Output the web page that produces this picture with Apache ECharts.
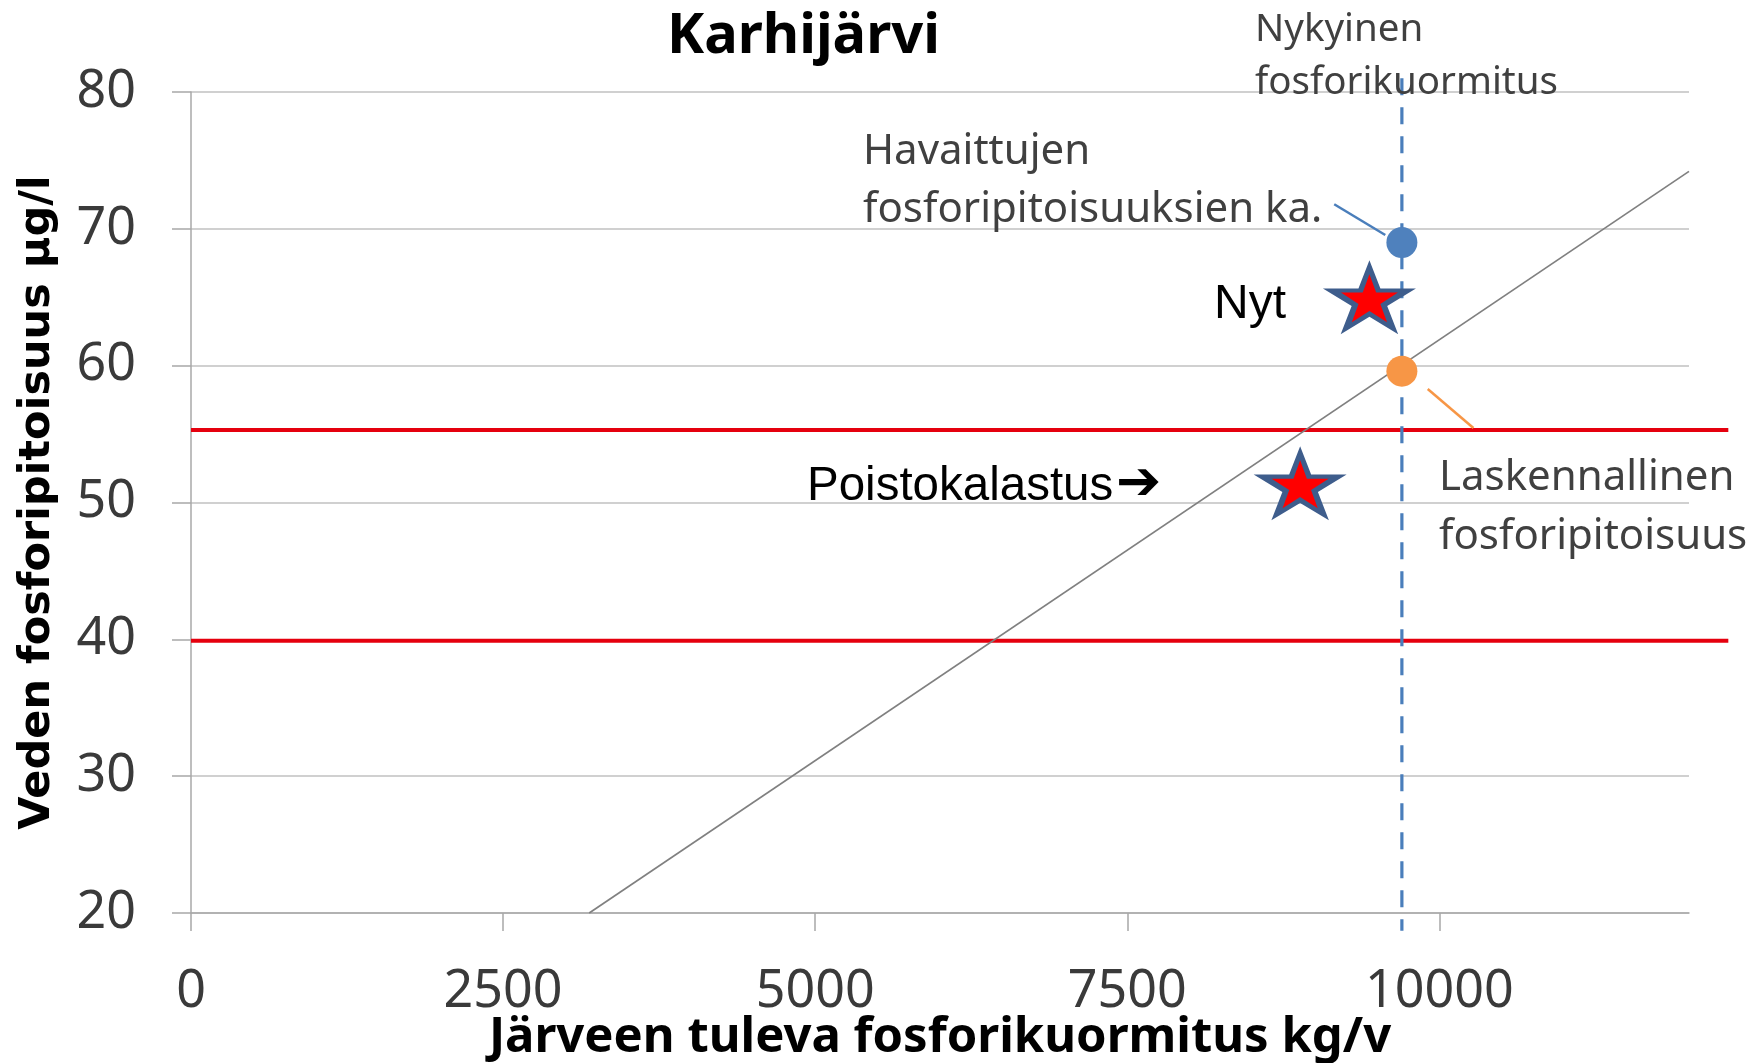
<!DOCTYPE html>
<html>
<head>
<meta charset="utf-8">
<script src="https://cdn.jsdelivr.net/npm/echarts@6/dist/echarts.min.js"></script>
<style>
html,body{margin:0;padding:0;background:#fff;}
#chart{width:1746px;height:1063px;}
</style>
</head>
<body>
<div id="chart"></div>
<script>
// ---- data ----
const titleText = 'Karhijärvi';
const xAxisTitle = 'Järveen tuleva fosforikuormitus kg/v';
const yAxisTitle = 'Veden fosforipitoisuus µg/l';
const xTickValues = [0, 2500, 5000, 7500, 10000];
const yTickValues = [20, 30, 40, 50, 60, 70, 80];
const xRange = [0, 12000];
const yRange = [20, 80];

// model line (load -> concentration)
const modelLine = [[3190, 20], [12000, 74.2]];
// target limits (red), drawn a bit past the plot's right edge
const limitUpper = [[0, 55.3], [12315, 55.3]];
const limitLower = [[0, 39.9], [12315, 39.9]];
// current load (dashed vertical)
const currentLoad = [[9700, 81], [9700, 18.7]];
// observed mean and computed concentration
const observedMean = [[9700, 69.0]];
const computedConc = [[9700, 59.6]];
// leader lines of the labels
const observedLeader = [[9158, 71.8], [9567, 69.55]];
const computedLeader = [[9907, 58.3], [10273, 55.45]];
// stars
const starNow = [[9440, 65.0]];
const starFishing = [[8885, 51.4]];

// annotation texts
const noteLoad = 'Nykyinen\nfosforikuormitus';
const noteObserved = 'Havaittujen\nfosforipitoisuuksien ka.';
const noteComputed = 'Laskennallinen\nfosforipitoisuus';
const noteNow = 'Nyt';
const noteFishing = 'Poistokalastus';
const noteArrow = '➔';

// ---- chart ----
const calib = '"Noto Sans", "Open Sans", sans-serif';
const arial = '"Liberation Sans", Arial, "DejaVu Sans", sans-serif';
const starPath = 'path://M50 0 L61.23 34.55 L97.55 34.55 L68.17 55.9 L79.39 90.45 L50 69.1 L20.61 90.45 L31.83 55.9 L2.45 34.55 L38.77 34.55 Z';
const gridGray = '#c0c0c0';
const axisGray = '#a8a8a8';

const chart = echarts.init(document.getElementById('chart'), null, {renderer: 'canvas'});

function lineSeries(name, data, color, width, type, z, gridIdx) {
  return {
    name: name, type: 'line', data: data, showSymbol: false, symbol: 'none',
    xAxisIndex: gridIdx || 0, yAxisIndex: gridIdx || 0,
    clip: false, silent: true, z: z,
    lineStyle: {color: color, width: width, type: type || 'solid'}
  };
}
function starSeries(name, data, color, size, z, offset) {
  return {
    name: name, type: 'scatter', data: data, symbol: starPath, symbolSize: size,
    symbolOffset: offset || [0, 0],
    itemStyle: {color: color, opacity: 1}, z: z, silent: true
  };
}

const plotLeft = 191, plotTop = 92, plotBottom = 150, plotRight = 57;
// the wide grid shares pixel scale with the main one, reaching the red lines' end
const wideRight = 1746 - (plotLeft + (1746 - plotLeft - plotRight) * limitUpper[1][0] / xRange[1]);

const option = {
  animation: false,
  backgroundColor: '#ffffff',
  title: {
    text: titleText,
    left: 662, top: 4,
    textStyle: {fontFamily: calib, fontWeight: 'bold', fontSize: 56, color: '#000'}
  },
  grid: [
    {left: plotLeft, right: plotRight, top: plotTop, bottom: plotBottom, containLabel: false, outerBoundsMode: 'none'},
    {left: plotLeft, right: wideRight, top: plotTop, bottom: plotBottom, containLabel: false, outerBoundsMode: 'none'}
  ],
  xAxis: [{
    type: 'value', min: xRange[0], max: xRange[1], gridIndex: 0,
    name: xAxisTitle, nameLocation: 'middle', nameGap: 101, nameMoveOverlap: false,
    nameTextStyle: {fontFamily: calib, fontWeight: 'bold', fontSize: 49, color: '#000'},
    axisLine: {show: true, lineStyle: {color: axisGray, width: 1.5}},
    axisTick: {show: true, length: 18, customValues: xTickValues, lineStyle: {color: axisGray, width: 1.5}},
    axisLabel: {customValues: xTickValues, margin: 53, fontFamily: calib, fontSize: 52, color: '#3a3a3a',
                formatter: function (v) { return String(v); }},
    splitLine: {show: false}
  }, {
    type: 'value', min: xRange[0], max: limitUpper[1][0], gridIndex: 1, show: false,
    axisLine: {show: false}, axisTick: {show: false}, axisLabel: {show: false}, splitLine: {show: false}
  }],
  yAxis: [{
    type: 'value', min: yRange[0], max: yRange[1], interval: 10, gridIndex: 0,
    name: yAxisTitle, nameLocation: 'middle', nameRotate: 90, nameGap: 132, nameMoveOverlap: false,
    nameTextStyle: {fontFamily: '"DejaVu Sans", Verdana, sans-serif', fontWeight: 'bold', fontSize: 43, color: '#000'},
    axisLine: {show: true, lineStyle: {color: axisGray, width: 1.5}},
    axisTick: {show: true, length: 19, customValues: yTickValues, lineStyle: {color: axisGray, width: 1.5}},
    axisLabel: {customValues: yTickValues, margin: 55, fontFamily: calib, fontSize: 52, color: '#3a3a3a'},
    splitLine: {show: true, lineStyle: {color: gridGray, width: 1.5}}
  }, {
    type: 'value', min: yRange[0], max: yRange[1], gridIndex: 1, show: false,
    axisLine: {show: false}, axisTick: {show: false}, axisLabel: {show: false}, splitLine: {show: false}
  }],
  series: [
    lineSeries('Raja 55', limitUpper, '#e5000e', 4, 'solid', 3, 1),
    lineSeries('Raja 40', limitLower, '#e5000e', 4, 'solid', 3, 1),
    lineSeries('Malli', modelLine, '#808080', 1.7, 'solid', 4),
    lineSeries('Nykyinen kuormitus', currentLoad, '#4a7ebb', 3.2, [17, 12], 5),
    lineSeries('Havaittu viiva', observedLeader, '#4a7ebb', 2.5, 'solid', 5),
    lineSeries('Laskettu viiva', computedLeader, '#f79646', 2.5, 'solid', 5),
    {
      name: 'Havaittu', type: 'scatter', data: observedMean, symbol: 'circle', symbolSize: 31,
      itemStyle: {color: '#4f81bd', opacity: 1}, z: 6, silent: true
    },
    {
      name: 'Laskennallinen', type: 'scatter', data: computedConc, symbol: 'circle', symbolSize: 31,
      itemStyle: {color: '#f79646', opacity: 1}, z: 6, silent: true
    },
    starSeries('Nyt (reuna)', starNow, '#3e5d8c', [93, 74], 7),
    starSeries('Nyt', starNow, '#ff0000', [57, 48], 8, [0, 1]),
    starSeries('Poistokalastus (reuna)', starFishing, '#3e5d8c', [93, 74], 7),
    starSeries('Poistokalastus', starFishing, '#ff0000', [57, 48], 8, [0, 1])
  ],
  graphic: [
    {type: 'text', x: 1255, y: 57, z: 10, silent: true,
     style: {text: noteLoad, fontFamily: calib, fontSize: 38.5, lineHeight: 53, fill: '#404040', textVerticalAlign: 'middle', textAlign: 'left'}},
    {type: 'text', x: 863, y: 181, z: 10, silent: true,
     style: {text: noteObserved, fontFamily: calib, fontSize: 42, lineHeight: 58, fill: '#404040', textVerticalAlign: 'middle', textAlign: 'left'}},
    {type: 'text', x: 1439, y: 508, z: 10, silent: true,
     style: {text: noteComputed, fontFamily: calib, fontSize: 42, lineHeight: 59, fill: '#404040', textVerticalAlign: 'middle', textAlign: 'left'}},
    {type: 'text', x: 1214, y: 305, z: 10, silent: true,
     style: {text: noteNow, fontFamily: arial, fontSize: 48, fill: '#000', textVerticalAlign: 'middle', textAlign: 'left'}},
    {type: 'text', x: 807, y: 487, z: 10, silent: true,
     style: {text: noteFishing, fontFamily: arial, fontSize: 47.5, fill: '#000', textVerticalAlign: 'middle', textAlign: 'left'}},
    {type: 'text', x: 1116, y: 485, z: 10, silent: true,
     style: {text: noteArrow, fontFamily: '"DejaVu Sans", sans-serif', fontWeight: 'bold', fontSize: 54, fill: '#000', textVerticalAlign: 'middle', textAlign: 'left'}}
  ]
};
chart.setOption(option);
</script>
</body>
</html>
